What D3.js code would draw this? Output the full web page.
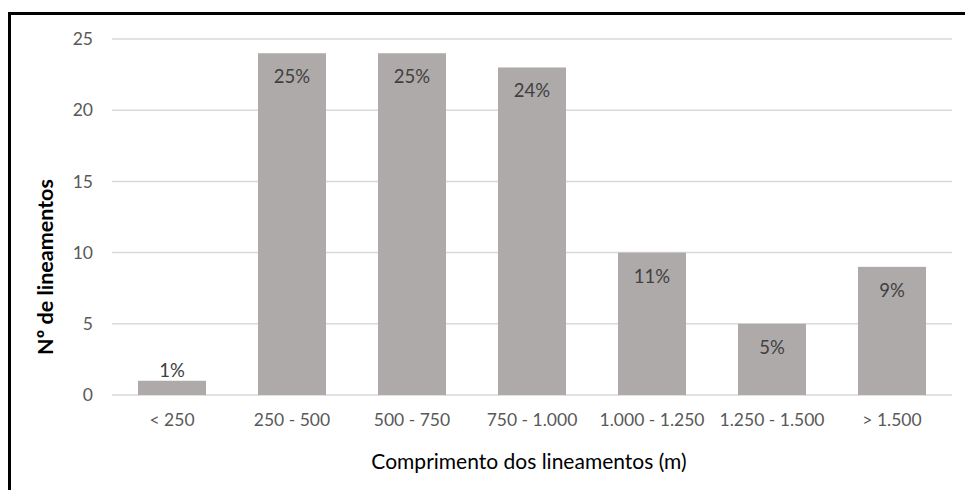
<!DOCTYPE html>
<html>
<head>
<meta charset="utf-8">
<script src="https://cdn.jsdelivr.net/npm/d3@7"></script>
<style>
  html, body { margin: 0; padding: 0; background: #fff; }
  svg { display: block; font-family: Lato, "Open Sans", sans-serif; }
</style>
</head>
<body>
<svg id="chart" width="965" height="490"></svg>
<script>
// Length classes of the lineaments
const categories = ["< 250", "250 - 500", "500 - 750", "750 - 1.000", "1.000 - 1.250", "1.250 - 1.500", "> 1.500"];
// Number of lineaments in each class
const counts = [1, 24, 24, 23, 10, 5, 9];
// Share of the total, as printed on each bar
const shares = ["1%", "25%", "25%", "24%", "11%", "5%", "9%"];
// Y axis ticks
const yTicks = [0, 5, 10, 15, 20, 25];

const svg = d3.select("#chart");

// outer frame
svg.append("rect")
  .attr("x", 9.5).attr("y", 13.5)
  .attr("width", 1000).attr("height", 600)
  .attr("fill", "none").attr("stroke", "#000").attr("stroke-width", 3);

const x = d3.scaleBand()
  .domain(categories)
  .range([112, 952])
  .paddingInner(0.433)
  .paddingOuter(0.2165);

const y = d3.scaleLinear()
  .domain([0, 25])
  .range([395, 39]);

// horizontal gridlines
svg.append("g")
  .selectAll("line")
  .data(yTicks)
  .join("line")
  .attr("x1", 112).attr("x2", 952)
  .attr("y1", d => y(d)).attr("y2", d => y(d))
  .attr("stroke", "#D9D9D9").attr("stroke-width", 1.5);

// y axis labels
const yAxis = d3.axisLeft(y).tickValues(yTicks).tickSize(0).tickPadding(0);
svg.append("g")
  .attr("transform", "translate(93,0)")
  .call(yAxis)
  .call(g => g.select(".domain").remove())
  .call(g => g.selectAll("text")
    .attr("fill", "#595959")
    .style("font-size", "17.5px")
    .style("font-family", "Lato, sans-serif"));

// bars
svg.append("g")
  .selectAll("rect")
  .data(counts)
  .join("rect")
  .attr("x", (d, i) => x(categories[i]))
  .attr("width", x.bandwidth())
  .attr("y", d => y(d))
  .attr("height", d => y(0) - y(d))
  .attr("fill", "#AEAAAA");

// percentage labels: inside the top of the bar, above it when the bar is too short
svg.append("g")
  .selectAll("text")
  .data(counts)
  .join("text")
  .attr("x", (d, i) => x(categories[i]) + x.bandwidth() / 2)
  .attr("y", d => (y(0) - y(d) > 30) ? y(d) + 30 : y(d) - 4)
  .attr("text-anchor", "middle")
  .attr("fill", "#404040")
  .style("font-size", "18.5px")
  .text((d, i) => shares[i]);

// x axis labels
const xAxis = d3.axisBottom(x).tickSize(0).tickPadding(0);
svg.append("g")
  .attr("transform", "translate(0,414)")
  .call(xAxis)
  .call(g => g.select(".domain").remove())
  .call(g => g.selectAll("text")
    .attr("fill", "#595959")
    .style("font-size", "17.5px")
    .style("font-family", "Lato, sans-serif"));

// axis titles
svg.append("text")
  .attr("x", 529).attr("y", 469)
  .attr("text-anchor", "middle")
  .attr("fill", "#000")
  .style("font-size", "21px")
  .text("Comprimento dos lineamentos (m)");

svg.append("text")
  .attr("transform", "translate(53,267) rotate(-90)")
  .attr("text-anchor", "middle")
  .attr("fill", "#000")
  .style("font-size", "21.5px")
  .style("font-weight", "bold")
  .text("Nº de lineamentos");
</script>
</body>
</html>
